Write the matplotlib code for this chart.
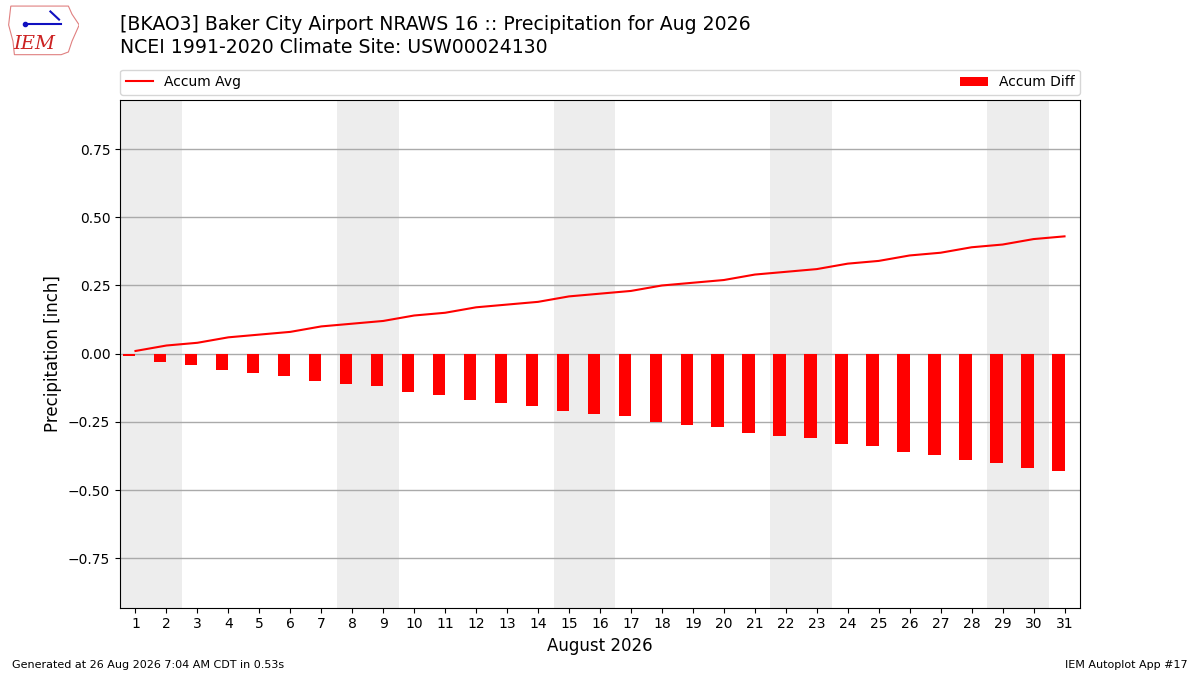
import matplotlib
matplotlib.use("Agg")
import matplotlib.pyplot as plt
import numpy as np
from matplotlib.patches import Polygon

days = list(range(1, 32))
accum_avg = [0.01, 0.03, 0.04, 0.06, 0.07, 0.08, 0.10, 0.11, 0.12, 0.14,
             0.15, 0.17, 0.18, 0.19, 0.21, 0.22, 0.23, 0.25, 0.26, 0.27,
             0.29, 0.30, 0.31, 0.33, 0.34, 0.36, 0.37, 0.39, 0.40, 0.42, 0.43]
accum_diff = [-0.01, -0.03, -0.04, -0.06, -0.07, -0.08, -0.10, -0.11, -0.12, -0.14,
              -0.15, -0.17, -0.18, -0.19, -0.21, -0.22, -0.23, -0.25, -0.26, -0.27,
              -0.29, -0.30, -0.31, -0.33, -0.34, -0.36, -0.37, -0.39, -0.40, -0.42, -0.43]
weekend_starts = [1, 8, 15, 22, 29]
yticks = [-0.75, -0.5, -0.25, 0.0, 0.25, 0.5, 0.75]

title1 = "[BKAO3] Baker City Airport NRAWS 16 :: Precipitation for Aug 2026"
title2 = "NCEI 1991-2020 Climate Site: USW00024130"
footer_left = "Generated at 26 Aug 2026 7:04 AM CDT in 0.53s"
footer_right = "IEM Autoplot App #17"

fig = plt.figure(figsize=(12, 6.75), dpi=100)
ax = fig.add_axes([0.1, 0.1, 0.8, 0.752])

for s in weekend_starts:
    ax.axvspan(s - 0.5, s + 1.5, color="#ededed", zorder=0, lw=0)

ax.plot(days, accum_avg, color="r", lw=1.5, label="Accum Avg", zorder=4)
ax.bar(days, accum_diff, width=-0.4, align="edge", color="r", label="Accum Diff", zorder=3)

ax.set_xlim(0.5, 31.5)
ax.set_ylim(-0.93, 0.93)
ax.set_xticks(days)
ax.set_yticks(yticks)
ax.grid(axis="y", color="#aaaaaa", lw=1, zorder=1)
ax.set_axisbelow(True)
ax.set_ylabel("Precipitation [inch]", fontsize=12)
ax.set_xlabel("August 2026", fontsize=12)
ax.tick_params(labelsize=10)

ax.legend(bbox_to_anchor=(0, 1.01, 1, 0.102), loc="lower left",
          ncol=2, mode="expand", borderaxespad=0, fontsize=10)

fig.text(0.1, 0.963, title1, fontsize=13.6, va="center", ha="left")
fig.text(0.1, 0.929, title2, fontsize=13.6, va="center", ha="left")
fig.text(0.01, 0.015, footer_left, fontsize=8, ha="left", va="center")
fig.text(0.99, 0.015, footer_right, fontsize=8, ha="right", va="center")

# logo approximation
lax = fig.add_axes([0.006, 0.915, 0.06, 0.08])
lax.set_xlim(0, 1)
lax.set_ylim(0, 1)
lax.axis("off")
outline = [(0.05, 0.95), (0.85, 0.95), (0.9, 0.8), (1.0, 0.6), (0.95, 0.45),
           (0.9, 0.3), (0.85, 0.1), (0.75, 0.05), (0.1, 0.05), (0.08, 0.3),
           (0.02, 0.6)]
lax.add_patch(Polygon(outline, closed=True, fill=False, ec="#e08080", lw=0.8))
lax.text(0.38, 0.25, "IEM", color="#cc2222", fontsize=14, family="DejaVu Serif",
         style="italic", ha="center", va="center")
lax.plot([0.25, 0.75], [0.62, 0.62], color="#1010c0", lw=1.5)
lax.plot([0.25], [0.62], "o", color="#1010c0", ms=3)
lax.plot([0.6, 0.72], [0.85, 0.7], color="#1010c0", lw=1.5)

fig.savefig("out.png", dpi=100)
